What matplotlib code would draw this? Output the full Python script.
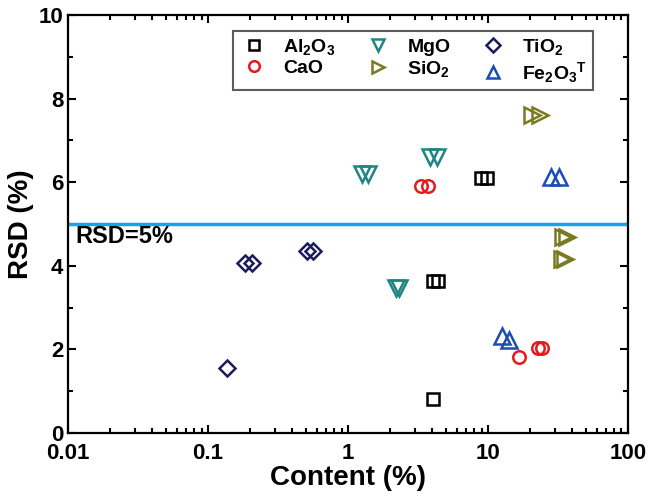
import matplotlib
matplotlib.use("Agg")
import matplotlib.pyplot as plt
from matplotlib.ticker import LogLocator, NullFormatter, MultipleLocator

plt.rcParams["font.family"] = ["Liberation Sans", "DejaVu Sans"]
plt.rcParams["font.weight"] = "bold"
plt.rcParams["mathtext.fontset"] = "custom"
plt.rcParams["mathtext.bf"] = "Liberation Sans:bold"
plt.rcParams["mathtext.rm"] = "Liberation Sans:bold"
plt.rcParams["mathtext.default"] = "bf"

# content (%) and RSD (%) per oxide
al2o3_x = [8.9, 9.85, 4.05, 4.4, 4.05]
al2o3_y = [6.1, 6.1, 3.64, 3.64, 0.81]
cao_x = [3.32, 3.73, 16.6, 22.8, 24.3]
cao_y = [5.9, 5.9, 1.82, 2.03, 2.03]
mgo_x = [1.26, 1.39, 3.85, 4.32, 2.2, 2.3]
mgo_y = [6.2, 6.2, 6.6, 6.6, 3.47, 3.47]
sio2_x = [20.6, 23.5, 34.5, 36.5, 34.0, 35.5]
sio2_y = [7.6, 7.6, 4.69, 4.69, 4.16, 4.16]
tio2_x = [0.137, 0.184, 0.206, 0.51, 0.56]
tio2_y = [1.56, 4.07, 4.07, 4.35, 4.35]
fe2o3_x = [28.2, 32.2, 12.6, 14.1]
fe2o3_y = [6.12, 6.12, 2.32, 2.22]

rsd_limit = 5

fig = plt.figure(figsize=(6.52, 4.98), dpi=100)
ax = fig.add_axes([0.1043, 0.1305, 0.8587, 0.8395])

series = [
    (al2o3_x, al2o3_y, "s", "#000000", 8, r"Al$_2$O$_3$"),
    (cao_x, cao_y, "o", "#e8191c", 9, "CaO"),
    (mgo_x, mgo_y, "v", "#1f8582", 11, "MgO"),
    (sio2_x, sio2_y, ">", "#7a7a22", 11, r"SiO$_2$"),
    (tio2_x, tio2_y, "D", "#1c1c5a", 8, r"TiO$_2$"),
    (fe2o3_x, fe2o3_y, "^", "#1a4db5", 11, r"Fe$_2$O$_3$$^\mathregular{T}$"),
]
for xs, ys, m, c, ms, lab in series:
    ax.plot(xs, ys, ls="none", marker=m, ms=ms, mfc="none", mec=c,
            mew=1.8, label=lab)

ax.axhline(rsd_limit, color="#13a5ea", lw=2.5)
ax.text(0.0113, 4.7, "RSD=5%", fontsize=17, fontweight="bold", va="center")

ax.set_xscale("log")
ax.set_xlim(0.01, 100)
ax.set_ylim(0, 10)
ax.xaxis.set_minor_locator(LogLocator(base=10, subs=range(2, 10), numticks=10))
ax.xaxis.set_minor_formatter(NullFormatter())
ax.set_xticks([0.01, 0.1, 1, 10, 100])
ax.set_xticklabels(["0.01", "0.1", "1", "10", "100"])
ax.yaxis.set_major_locator(MultipleLocator(2))
ax.yaxis.set_minor_locator(MultipleLocator(1))

ax.tick_params(which="both", direction="in", top=True, right=True,
               labelsize=16, width=1.5)
ax.tick_params(axis="x", pad=7)
ax.tick_params(which="major", length=6)
ax.tick_params(which="minor", length=3.5)
for sp in ax.spines.values():
    sp.set_linewidth(1.6)

ax.set_xlabel("Content (%)", fontsize=20, fontweight="bold", labelpad=1)
ax.set_ylabel("RSD (%)", fontsize=20, fontweight="bold", labelpad=3)

leg = ax.legend(ncol=3, loc="upper right", bbox_to_anchor=(0.955, 0.985),
                fontsize=14, frameon=True, fancybox=False, edgecolor="#333333",
                handletextpad=0.7, columnspacing=1.4, borderpad=0.3,
                labelspacing=0.15, handlelength=1.6, markerscale=0.85)
leg.get_frame().set_linewidth(1.5)

fig.savefig("out.png", dpi=100)
plt.close(fig)
